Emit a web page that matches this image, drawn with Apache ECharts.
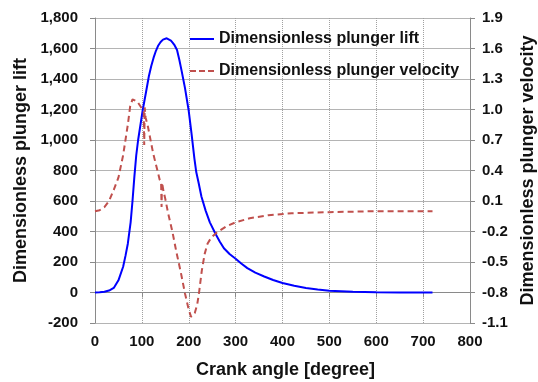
<!DOCTYPE html>
<html><head><meta charset="utf-8">
<script src="https://cdn.jsdelivr.net/npm/echarts@6/dist/echarts.min.js"></script>
<style>html,body{margin:0;padding:0;background:#fff}#c{width:538px;height:382px}</style>
</head><body><div id="c"></div>
<script>
var liftAngle = [0,10,20,30,40,50,60,65,70,76,80,84,88,92,97,102,108,115,120,125,130,135,140,145,149,153,157,162,166,170,175,180,185,192,200,206,212,216,221,227,236,245,257,266,275,287,300,312,325,342,361,380,400,425,450,475,500,550,600,650,720];
var liftValue = [0,1,5,13,30,80,169,240,320,460,600,760,900,1000,1100,1200,1300,1420,1485,1540,1585,1620,1643,1658,1665,1667,1664,1652,1637,1620,1590,1525,1450,1340,1190,1040,880,790,720,630,537,460,385,335,290,252,221,190,160,130,105,82,62,44,30,20,12,5,2,0.5,0];
var velAngle = [0,10,20,30,40,50,60,70,75,80,90,100,104,105,106,108,113,124,138,141,142,143,146,150,156,165,174,183,192,200,205,209,213,218,222,228,234,240,248,260,280,300,330,370,420,500,600,720];
var velValue = [0,0.01,0.04,0.1,0.21,0.33,0.55,0.85,1.03,1.10,1.08,1.01,0.99,0.65,1.02,0.92,0.83,0.57,0.31,0.29,0.04,0.28,0.2,0.12,-0.02,-0.2,-0.41,-0.6,-0.81,-0.97,-1.04,-1.05,-1.0,-0.92,-0.8,-0.58,-0.42,-0.32,-0.26,-0.21,-0.15,-0.11,-0.07,-0.04,-0.02,-0.01,0,0];
var seriesNames = ['Dimensionless plunger lift','Dimensionless plunger velocity'];
var xName = 'Crank angle [degree]';

function pairs(a,b){return a.map(function(v,i){return [v,b[i]];});}
var font = 'Liberation Sans, Arial, sans-serif';
var txt = '#111';
var chart = echarts.init(document.getElementById('c'));
chart.setOption({
  animation:false,
  backgroundColor:'#fff',
  grid:{left:95,right:68,top:18,bottom:59,containLabel:false,outerBoundsMode:'none'},
  legend:{
    orient:'vertical',left:190,top:31,padding:0,itemWidth:24,itemHeight:2,itemGap:16,
    textStyle:{fontFamily:font,fontWeight:'bold',fontSize:16,color:txt},
    data:[
      {name:seriesNames[0],icon:'path://M0,0h24v2h-24z',itemStyle:{color:'#0000ff'}},
      {name:seriesNames[1],icon:'path://M0,0h6v2h-6z M9,0h6v2h-6z M18,0h6v2h-6z',itemStyle:{color:'#c0504d'}}
    ]
  },
  xAxis:{
    type:'value',min:0,max:800,interval:100,
    name:xName,nameLocation:'middle',nameGap:38,
    nameTextStyle:{fontFamily:font,fontWeight:'bold',fontSize:18,color:txt,padding:[0,0,0,6]},
    axisLine:{show:true,lineStyle:{color:'#8a8a8a',width:1}},
    axisTick:{show:true,length:5,lineStyle:{color:'#8a8a8a'}},
    axisLabel:{fontFamily:font,fontWeight:'bold',fontSize:15,color:txt,margin:11},
    splitLine:{show:true,lineStyle:{color:'#a0a0a0',type:'dotted',width:1}}
  },
  yAxis:[{
    type:'value',min:-200,max:1800,interval:200,position:'left',
    name:seriesNames[0],nameLocation:'middle',nameGap:65,nameRotate:90,
    nameTextStyle:{fontFamily:font,fontWeight:'bold',fontSize:18,color:txt},
    axisLine:{show:true,lineStyle:{color:'#8a8a8a',width:1}},
    axisTick:{show:true,length:5,lineStyle:{color:'#8a8a8a'}},
    axisLabel:{fontFamily:font,fontWeight:'bold',fontSize:15,color:txt,margin:17,
      formatter:function(v){return v.toLocaleString('en-US');}},
    splitLine:{show:true,lineStyle:{color:'#b4b4b4',width:1}}
  },{
    type:'value',min:-1.1,max:1.9,interval:0.3,position:'right',
    name:seriesNames[1],nameLocation:'middle',nameGap:48,nameRotate:90,
    nameTextStyle:{fontFamily:font,fontWeight:'bold',fontSize:18,color:txt},
    axisLine:{show:true,lineStyle:{color:'#8a8a8a',width:1}},
    axisTick:{show:true,length:5,lineStyle:{color:'#8a8a8a'}},
    axisLabel:{fontFamily:font,fontWeight:'bold',fontSize:15,color:txt,margin:12,
      formatter:function(v){return v.toFixed(1);}},
    splitLine:{show:false}
  }],
  series:[{
    name:seriesNames[0],type:'line',yAxisIndex:0,showSymbol:false,symbol:'none',
    data:pairs(liftAngle,liftValue),
    lineStyle:{color:'#0000ff',width:2},itemStyle:{color:'#0000ff'}
  },{
    name:seriesNames[1],type:'line',yAxisIndex:1,showSymbol:false,symbol:'none',
    data:pairs(velAngle,velValue),
    lineStyle:{color:'#c0504d',width:2,type:[6,4]},itemStyle:{color:'#c0504d'}
  }]
});
</script></body></html>
